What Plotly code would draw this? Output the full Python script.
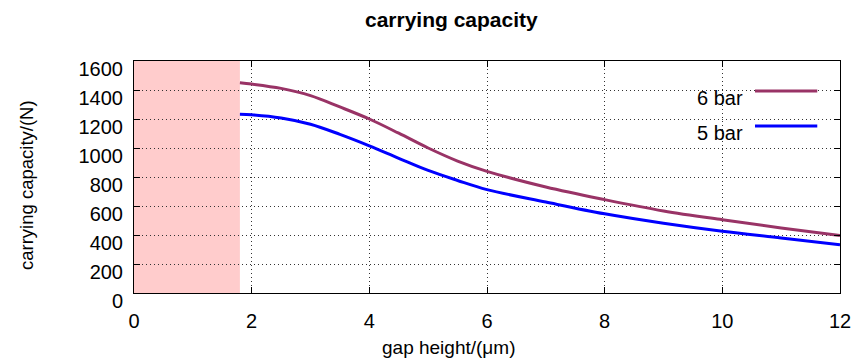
import plotly.graph_objects as go

# ---- data ----
gap_6bar = [1.8, 2.0, 2.5, 3.0, 3.5, 4.0, 4.5, 5.0, 5.5, 6.0, 7.0, 8.0, 9.0, 10.0, 11.0, 12.0]
cap_6bar = [1450, 1441, 1411, 1361, 1283, 1200, 1102, 1000, 910, 839, 731, 644, 566, 505, 449, 396]
gap_5bar = [1.8, 2.0, 2.5, 3.0, 3.5, 4.0, 4.5, 5.0, 5.5, 6.0, 7.0, 8.0, 9.0, 10.0, 11.0, 12.0]
cap_5bar = [1232, 1229, 1207, 1164, 1094, 1015, 929, 845, 776, 713, 627, 546, 481, 426, 380, 333]
series_names = ["6 bar", "5 bar"]
shade_range = [0, 1.8]
x_ticks = [0, 2, 4, 6, 8, 10, 12]
y_ticks = [0, 200, 400, 600, 800, 1000, 1200, 1400, 1600]

C6 = "#993366"
C5 = "#0000ff"
FONT = "Liberation Sans, Arial"

fig = go.Figure()
fig.add_trace(go.Scatter(x=gap_6bar, y=cap_6bar, mode="lines", name=series_names[0],
                         line=dict(color=C6, width=3, shape="spline", smoothing=1.0), showlegend=False))
fig.add_trace(go.Scatter(x=gap_5bar, y=cap_5bar, mode="lines", name=series_names[1],
                         line=dict(color=C5, width=3, shape="spline", smoothing=1.0), showlegend=False))

fig.add_shape(type="rect", xref="x", yref="paper", x0=shade_range[0], x1=shade_range[1],
              y0=0, y1=1, fillcolor="#ffcccc", line_width=0, layer="below")

axis_common = dict(showline=True, linecolor="black", linewidth=1, mirror="ticks",
                   ticks="inside", ticklen=6, tickcolor="black",
                   showgrid=True, gridcolor="#333333", gridwidth=1, griddash="1px,3px",
                   zeroline=False, tickfont=dict(family=FONT, size=20, color="black"))

fig.update_xaxes(range=[0, 12], tickvals=x_ticks, ticklabelstandoff=10, **axis_common)
fig.update_yaxes(range=[0, 1600], tickvals=y_ticks, ticklabelstandoff=6, ticklabelshift=8, **axis_common)

# legend (text before line, as in reference)
leg_text_y = [0.8405, 0.6897]
leg_line_y = [0.8707, 0.7198]
for name, col, ty, ly in zip(series_names, [C6, C5], leg_text_y, leg_line_y):
    fig.add_annotation(xref="paper", yref="paper", x=0.8655, y=ty, text=name, showarrow=False,
                       xanchor="right", yanchor="middle", font=dict(family=FONT, size=20, color="black"))
    fig.add_shape(type="line", xref="paper", yref="paper", x0=0.8796, x1=0.9678, y0=ly, y1=ly,
                  line=dict(color=col, width=3))

fig.add_annotation(xref="paper", yref="paper", x=-0.153, y=0.4655, text="carrying capacity/(N)", textangle=-90,
                   showarrow=False, xanchor="center", yanchor="middle",
                   font=dict(family=FONT, size=18.5, color="black"))
fig.add_annotation(xref="paper", yref="paper", x=0.445, y=-0.237, text="gap height/(μm)",
                   showarrow=False, xanchor="center", yanchor="middle",
                   font=dict(family=FONT, size=19, color="black"))

fig.update_layout(
    width=863, height=362,
    margin=dict(l=134, r=15, t=61, b=69),
    paper_bgcolor="white", plot_bgcolor="rgba(0,0,0,0)",
    title=dict(text="<b>carrying capacity</b>", x=0.523, xanchor="center", y=0.945, yanchor="middle",
               font=dict(family=FONT, size=21, color="black")),
)

fig.write_html("out.html")
